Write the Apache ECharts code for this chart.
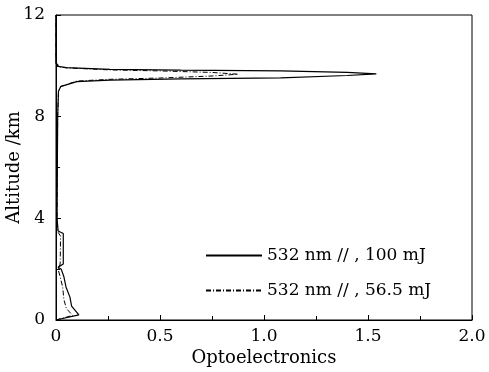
<!DOCTYPE html>
<html>
<head>
<meta charset="utf-8">
<script src="https://cdn.jsdelivr.net/npm/echarts@6/dist/echarts.min.js"></script>
<style>
  html, body { margin: 0; padding: 0; background: #fff; }
  #main { width: 489px; height: 372px; }
</style>
</head>
<body>
<div id="main"></div>
<script>
// [optoelectronics value, altitude km]
var seriesNames = ["532 nm // , 100 mJ", "532 nm // , 56.5 mJ"];
var solid100 = [
  [0, 0], [0.11, 0.2], [0.075, 0.55], [0.067, 0.9], [0.048, 1.3], [0.038, 1.7],
  [0.025, 2.0], [0.01, 2.08], [0.035, 2.2], [0.035, 3.4], [0.01, 3.5],
  [0.005, 4.0], [0.008, 8.0], [0.012, 9.0], [0.022, 9.18], [0.1, 9.38],
  [0.26, 9.44], [0.6, 9.49], [1.08, 9.53], [1.4, 9.62], [1.54, 9.68],
  [1.4, 9.74], [1.08, 9.8], [0.6, 9.83], [0.26, 9.86], [0.05, 9.93],
  [0.01, 9.98], [0.01, 10.05], [0, 10.1], [0, 12]
];
var dash565 = [
  [0, 0], [0.08, 0.18], [0.05, 0.45], [0.038, 0.8], [0.032, 1.3], [0.02, 1.7],
  [0.01, 2.0], [0.02, 2.2], [0.022, 3.3], [0.01, 3.45], [0.005, 4.0],
  [0.008, 8.0], [0.012, 9.0], [0.025, 9.2], [0.1, 9.4], [0.26, 9.47],
  [0.5, 9.52], [0.75, 9.6], [0.875, 9.67], [0.75, 9.74], [0.5, 9.8],
  [0.26, 9.84], [0.05, 9.92], [0.01, 9.97], [0.01, 10.05], [0, 10.1], [0, 12]
];
var xTicks = [0, 2, 0.5];   // min, max, interval
var yTicks = [0, 12, 4];

var font = "DejaVu Serif";
var chart = echarts.init(document.getElementById("main"));
var option = {
  backgroundColor: "#fff",
  animation: false,
  textStyle: { fontFamily: font, color: "#000" },
  grid: {
    left: 56, right: 17, top: 15, bottom: 52,
    outerBoundsMode: "none", containLabel: false,
    show: true, borderColor: "#000", borderWidth: 1
  },
  legend: {
    left: 200, top: 242, orient: "vertical",
    itemWidth: 56, itemHeight: 14, itemGap: 18,
    itemStyle: { opacity: 0 },
    textStyle: { fontFamily: font, fontSize: 17, color: "#000" },
    data: seriesNames
  },
  xAxis: {
    type: "value",
    min: xTicks[0], max: xTicks[1], interval: xTicks[2],
    name: "Optoelectronics", nameLocation: "middle", nameGap: 29,
    nameMoveOverlap: false,
    nameTextStyle: { fontFamily: font, fontSize: 18, color: "#000" },
    axisLine: { lineStyle: { color: "#000", width: 1 } },
    axisTick: { inside: true, length: 5, lineStyle: { color: "#000" } },
    minorTick: { show: true, splitNumber: 2, length: 4, lineStyle: { color: "#000" } },
    axisLabel: {
      fontFamily: font, fontSize: 17, color: "#000", margin: 8,
      formatter: function (v) { return v === 0 ? "0" : v.toFixed(1); }
    },
    splitLine: { show: false }
  },
  yAxis: {
    type: "value",
    min: yTicks[0], max: yTicks[1], interval: yTicks[2],
    name: "Altitude /km", nameLocation: "middle", nameGap: 33,
    nameMoveOverlap: false,
    nameTextStyle: { fontFamily: font, fontSize: 18, color: "#000" },
    axisLine: { lineStyle: { color: "#000", width: 1 } },
    axisTick: { inside: true, length: 5, lineStyle: { color: "#000" } },
    minorTick: { show: true, splitNumber: 2, length: 4, lineStyle: { color: "#000" } },
    axisLabel: { fontFamily: font, fontSize: 17, color: "#000", margin: 11 },
    splitLine: { show: false }
  },
  series: [
    {
      name: seriesNames[0], type: "line", data: solid100,
      symbol: "none", color: "#000",
      lineStyle: { color: "#000", width: 1.2, type: "solid" }
    },
    {
      name: seriesNames[1], type: "line", data: dash565,
      symbol: "none", color: "#000",
      lineStyle: { color: "#000", width: 1, type: [5, 2, 1, 2] }
    }
  ]
};
chart.setOption(option);
</script>
</body>
</html>
